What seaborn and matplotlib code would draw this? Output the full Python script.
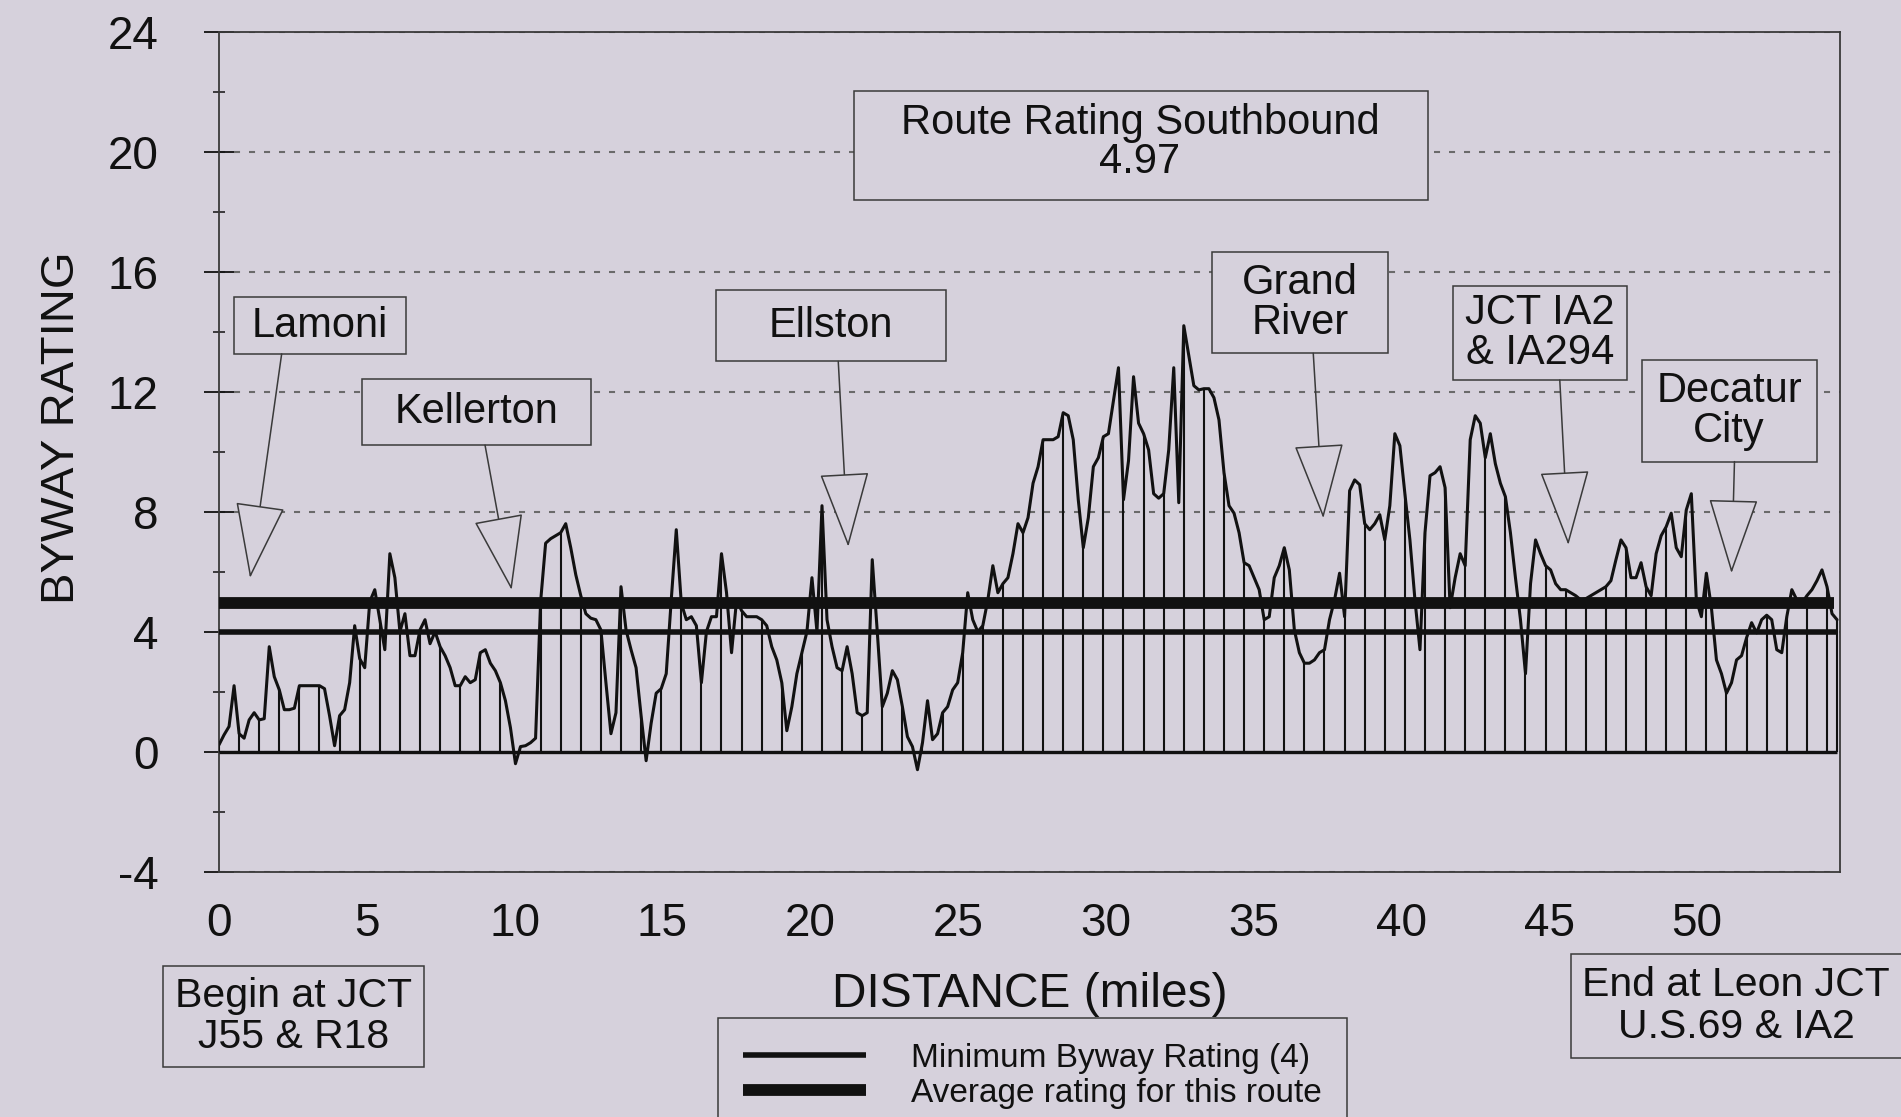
import numpy as np
import matplotlib.pyplot as plt
import seaborn as sns
from matplotlib.patches import Rectangle
from matplotlib.ticker import MultipleLocator

# byway rating sampled every 0.17 mile, southbound
mile_step = 0.17
stem_every = 4  # a drop line on every 4th sample

rating = [
    0.23, 0.56, 0.84, 2.2, 0.6, 0.45, 1.06, 1.3, 1.06, 1.1,
    3.5, 2.5, 2.06, 1.4, 1.4, 1.45, 2.2, 2.2, 2.2, 2.2,
    2.2, 2.1, 1.2, 0.2, 1.2, 1.4, 2.3, 4.2, 3.1, 2.8,
    5.0, 5.4, 4.4, 3.4, 6.6, 5.8, 4.0, 4.6, 3.2, 3.2,
    4.06, 4.4, 3.6, 4.0, 3.5, 3.2, 2.8, 2.2, 2.2, 2.5,
    2.3, 2.4, 3.3, 3.4, 2.95, 2.7, 2.3, 1.7, 0.8, -0.4,
    0.17, 0.2, 0.3, 0.45, 5.0, 6.95, 7.1, 7.2, 7.3, 7.6,
    6.8, 5.9, 5.2, 4.6, 4.45, 4.4, 4.06, 2.3, 0.6, 1.3,
    5.5, 4.06, 3.4, 2.8, 1.2, -0.3, 0.95, 1.95, 2.1, 2.6,
    5.06, 7.4, 4.95, 4.4, 4.5, 4.2, 2.3, 4.0, 4.5, 4.5,
    6.6, 5.3, 3.3, 5.06, 4.7, 4.5, 4.5, 4.5, 4.4, 4.2,
    3.5, 3.06, 2.3, 0.7, 1.5, 2.6, 3.3, 4.0, 5.8, 4.0,
    8.2, 4.4, 3.5, 2.8, 2.7, 3.5, 2.6, 1.3, 1.2, 1.3,
    6.4, 4.0, 1.5, 1.95, 2.7, 2.4, 1.5, 0.5, 0.17, -0.6,
    0.3, 1.7, 0.4, 0.6, 1.3, 1.5, 2.06, 2.3, 3.3, 5.3,
    4.4, 4.0, 4.2, 5.06, 6.2, 5.3, 5.6, 5.8, 6.6, 7.6,
    7.3, 7.8, 8.95, 9.5, 10.4, 10.4, 10.4, 10.5, 11.3, 11.2,
    10.4, 8.4, 6.8, 7.8, 9.5, 9.8, 10.5, 10.6, 11.7, 12.8,
    8.4, 9.7, 12.5, 10.95, 10.6, 10.06, 8.6, 8.45, 8.6, 10.06,
    12.8, 8.3, 14.2, 13.2, 12.2, 12.06, 12.1, 12.1, 11.8, 11.06,
    9.3, 8.2, 7.95, 7.3, 6.3, 6.2, 5.8, 5.4, 4.4, 4.5,
    5.8, 6.2, 6.8, 6.06, 4.06, 3.3, 2.95, 2.95, 3.06, 3.3,
    3.4, 4.4, 5.06, 5.95, 4.5, 8.7, 9.06, 8.9, 7.6, 7.4,
    7.6, 7.9, 7.06, 8.2, 10.6, 10.2, 8.6, 7.06, 5.06, 3.4,
    7.3, 9.2, 9.3, 9.5, 8.8, 4.8, 5.8, 6.6, 6.2, 10.4,
    11.2, 10.95, 9.8, 10.6, 9.6, 8.95, 8.5, 7.3, 5.8, 4.4,
    2.6, 5.6, 7.06, 6.6, 6.2, 6.06, 5.6, 5.4, 5.4, 5.3,
    5.2, 5.06, 5.1, 5.2, 5.3, 5.4, 5.5, 5.7, 6.4, 7.06,
    6.8, 5.8, 5.8, 6.3, 5.5, 5.2, 6.6, 7.2, 7.5, 7.95,
    6.8, 6.5, 8.06, 8.6, 5.06, 4.5, 5.95, 4.8, 3.06, 2.6,
    1.95, 2.3, 3.06, 3.2, 3.8, 4.3, 3.96, 4.4, 4.55, 4.4,
    3.4, 3.3, 4.5, 5.4, 5.06, 4.95, 5.2, 5.4, 5.7, 6.06,
    5.5, 4.6, 4.4,
]

min_rating = 4.0
avg_rating = 4.97

x_ticks = [0, 5, 10, 15, 20, 25, 30, 35, 40, 45, 50]
y_ticks = [-4, 0, 4, 8, 12, 16, 20, 24]

town_names = ["Lamoni", "Kellerton", "Ellston", "Grand\nRiver",
              "JCT IA2\n& IA294", "Decatur\nCity"]

# callout layout in data units: box (x0, x1, y0, y1), line start, arrow tip
callouts = [
    ((0.51, 6.33, 13.26, 15.15), (2.12, 13.26), (1.05, 5.79)),
    ((4.85, 12.6, 10.22, 12.41), (9.0, 10.22), (9.9, 5.39)),
    ((16.83, 24.58, 13.01, 15.4), (20.95, 13.01), (21.29, 6.83)),
    ((33.58, 39.56, 13.28, 16.66), (37.02, 13.28), (37.36, 7.78)),
    ((41.76, 47.63, 12.39, 15.52), (45.36, 12.39), (45.65, 6.89)),
    ((48.13, 54.05, 9.67, 13.06), (51.27, 9.67), (51.17, 5.95)),
]

bg = "#d6d1dc"
ink = "#111111"
edge = "#3a3a3a"
W, H = 1901, 1117

sns.set_style("white")
plt.rcParams["font.family"] = ["Liberation Sans", "DejaVu Sans"]
plt.rcParams["axes.unicode_minus"] = False

dist = np.arange(len(rating)) * mile_step
rating = np.array(rating)

fig = plt.figure(figsize=(W / 100, H / 100), dpi=100, facecolor=bg)
ax = fig.add_axes([219 / W, 1 - 871.7 / H, 1621 / W, 840 / H])
ax.set_facecolor(bg)

sns.lineplot(x=dist, y=rating, ax=ax, color=ink, lw=2.2, zorder=4)
ax.vlines(dist[::stem_every], 0, rating[::stem_every], color=ink, lw=1.5, zorder=3)
ax.vlines(dist[-1], 0, rating[-1], color=ink, lw=1.5, zorder=3)
ax.hlines(0, dist[0], dist[-1], color=ink, lw=2.4, zorder=3)
min_line = ax.hlines(min_rating, dist[0], dist[-1], color=ink, lw=4,
                     zorder=5, label="Minimum Byway Rating (4)")
avg_line = ax.hlines(avg_rating, dist[0], dist[-1] - 0.1, color=ink, lw=8.5,
                     zorder=5, label="Average rating for this route")

ax.set_xlim(0, 54.84)
ax.set_ylim(-4, 24)
ax.set_xticks(x_ticks)
ax.set_yticks(y_ticks)
ax.yaxis.set_minor_locator(MultipleLocator(2))
ax.tick_params(axis="y", which="major", left=True, direction="inout",
               length=21, width=1.3, pad=33, labelsize=33, colors=ink)
ax.tick_params(axis="y", which="minor", left=True, direction="inout",
               length=9, width=1.1, colors=ink)
ax.tick_params(axis="x", bottom=True, length=0, pad=22, labelsize=33, colors=ink)

ax.set_axisbelow(True)
ax.yaxis.grid(True, which="major", color="#6a6a6a", lw=1.5, linestyle=(0, (2.9, 4.3)))
for s in ax.spines.values():
    s.set_color(edge)
    s.set_linewidth(1.3)

ax.set_xlabel("DISTANCE (miles)", fontsize=34.5, color=ink)
ax.set_ylabel("BYWAY RATING", fontsize=34, color=ink)
ax.xaxis.set_label_coords(0.5, -0.119)
ax.yaxis.set_label_coords(-0.0833, 0.528)

# town callouts
for name, (box, start, tip) in zip(town_names, callouts):
    x0, x1, y0, y1 = box
    ax.add_patch(Rectangle((x0, y0), x1 - x0, y1 - y0, fc=bg, ec=edge,
                           lw=1.1, zorder=6, clip_on=False))
    ax.text((x0 + x1) / 2, (y0 + y1) / 2, name, ha="center", va="center",
            fontsize=30, color=ink, linespacing=1.0, zorder=7)
    ax.annotate("", xy=tip, xytext=start, zorder=6,
                arrowprops=dict(arrowstyle="-|>,head_length=5.0,head_width=1.65",
                                mutation_scale=10, fc=bg, ec=edge, lw=1.1,
                                shrinkA=0, shrinkB=0))

ax.add_patch(Rectangle((21.48, 18.39), 40.9 - 21.48, 22.02 - 18.39, fc=bg,
                       ec=edge, lw=1.1, zorder=6))
ax.text(31.16, 20.3, f"Route Rating Southbound\n{avg_rating:.2f}", ha="center",
        va="center", fontsize=30, color=ink, linespacing=0.95, zorder=7)

# begin / end boxes below the axis
def fig_box(x0, y0, x1, y1, text, tx=None):
    fig.patches.append(Rectangle((x0 / W, 1 - y1 / H), (x1 - x0) / W, (y1 - y0) / H,
                                 transform=fig.transFigure, fc=bg, ec=edge, lw=1.1))
    tx = (x0 + x1) / 2 if tx is None else tx
    fig.text(tx / W, 1 - (y0 + y1) / 2 / H, text, ha="center",
             va="center", fontsize=29.5, color=ink, linespacing=1.1)

fig_box(162.5, 966, 424, 1067, "Begin at JCT\nJ55 & R18")
fig_box(1571, 954, 1915, 1058, "End at Leon JCT\nU.S.69 & IA2", tx=1736)

leg = ax.legend(handles=[min_line, avg_line], loc="upper left",
                bbox_to_anchor=(718 / W, 1 - 1018 / H), bbox_transform=fig.transFigure,
                borderaxespad=0, borderpad=0.75, fontsize=24, handlelength=3.7,
                handletextpad=1.35, labelspacing=0.12, frameon=True, fancybox=False,
                edgecolor=edge, facecolor=bg, framealpha=1)
leg.get_frame().set_linewidth(1.1)
for t in leg.get_texts():
    t.set_color(ink)

fig.savefig("out.png", dpi=100, facecolor=bg)
